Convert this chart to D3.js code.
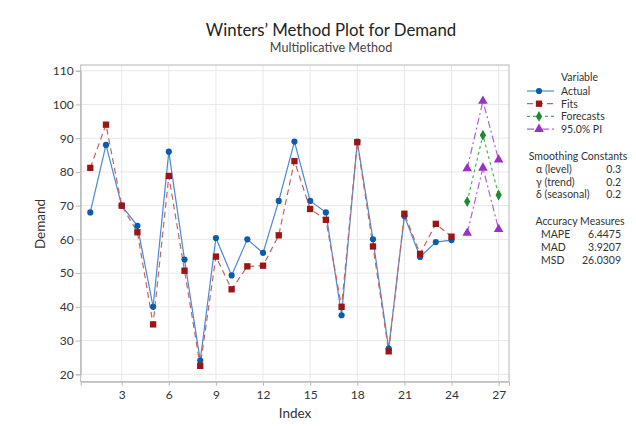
<!DOCTYPE html>
<html><head><meta charset="utf-8">
<script src="https://cdn.jsdelivr.net/npm/d3@7"></script>
<style>
body{margin:0;background:#fff;}
text{font-family:Lato,"Open Sans",sans-serif;}
</style></head>
<body><svg id="c" width="636" height="427"></svg>
<script>
const actualIdx = d3.range(1, 25);
const actual = [68,88,70,64,40,86,54,24.1,60.4,49.3,60,56,71.4,89,71.4,68,37.5,89,60,27.6,66.9,54.8,59.2,59.8];
const fits =   [81.2,94,70,62.1,34.8,78.8,50.7,22.5,54.9,45.2,52,52.2,61.2,83.2,69,65.8,40,88.8,57.9,26.8,67.6,55.7,64.6,60.8];
const forecastIdx = [25,26,27];
const forecasts = [71.2,90.9,73.15];
const piUpper = [81,101,83.6];
const piLower = [61.9,81.2,63];
const xTicks = [3,6,9,12,15,18,21,24,27];
const yTicks = [20,30,40,50,60,70,80,90,100,110];
const smoothing = [["α (level)","0.3"],["γ (trend)","0.2"],["δ (seasonal)","0.2"]];
const accuracy = [["MAPE","6.4475"],["MAD","3.9207"],["MSD","26.0309"]];

const FONT = "Lato,'Open Sans',sans-serif";
const svg = d3.select("#c");
const L=80.7, R=509, T=65, B=381.7;
const x = d3.scaleLinear().domain([0.39,27.66]).range([L,R]);
const y = d3.scaleLinear().domain([20,110]).range([374.3,70.7]);

// grid
const g = svg.append("g");
g.selectAll(".gx").data(xTicks).join("line")
  .attr("x1",d=>x(d)).attr("x2",d=>x(d)).attr("y1",T).attr("y2",B)
  .attr("stroke","#e8e8e8").attr("stroke-width",1);
g.selectAll(".gy").data(yTicks).join("line")
  .attr("y1",d=>y(d)).attr("y2",d=>y(d)).attr("x1",L).attr("x2",R)
  .attr("stroke","#e8e8e8").attr("stroke-width",1);
svg.append("rect").attr("x",L).attr("y",T).attr("width",R-L).attr("height",B-T)
  .attr("fill","none").attr("stroke","#b8b8b8").attr("stroke-width",1);

// axes
const xAxis = d3.axisBottom(x).tickValues(xTicks).tickSize(4).tickPadding(5);
const yAxis = d3.axisLeft(y).tickValues(yTicks).tickSize(5).tickPadding(2);
const ax = svg.append("g").attr("transform",`translate(0,${B})`).call(xAxis);
const ay = svg.append("g").attr("transform",`translate(${L},0)`).call(yAxis);
[ax,ay].forEach(a=>{
  a.select(".domain").attr("stroke","#b8b8b8");
  a.selectAll(".tick line").attr("stroke","#b8b8b8");
  a.selectAll(".tick text").attr("fill","#333").attr("font-size",12)
   .attr("font-family",FONT);
});

// titles
svg.append("text").attr("x",331).attr("y",36).attr("text-anchor","middle")
  .attr("font-size",16.8).attr("fill","#222").text("Winters’ Method Plot for Demand");
svg.append("text").attr("x",331).attr("y",51.5).attr("text-anchor","middle")
  .attr("font-size",12.6).attr("fill","#444").text("Multiplicative Method");
svg.append("text").attr("x",295).attr("y",418).attr("text-anchor","middle")
  .attr("font-size",13.5).attr("fill","#333").text("Index");
svg.append("text").attr("transform","translate(45,224) rotate(-90)").attr("text-anchor","middle")
  .attr("font-size",13.5).attr("fill","#333").text("Demand");

const line = d3.line().x(d=>x(d[0])).y(d=>y(d[1]));
const actualPts = actualIdx.map((i,k)=>[i,actual[k]]);
const fitPts = actualIdx.map((i,k)=>[i,fits[k]]);
const fcPts = forecastIdx.map((i,k)=>[i,forecasts[k]]);
const upPts = forecastIdx.map((i,k)=>[i,piUpper[k]]);
const loPts = forecastIdx.map((i,k)=>[i,piLower[k]]);

const cAct="#0b5cad", cActL="#4a8ad4", cFit="#9c1414", cFitL="#c46464", cFc="#1c8c2c", cFcL="#4caf5a", cPI="#9b2fc8", cPIL="#b060d8";

svg.append("path").attr("d",line(actualPts)).attr("fill","none").attr("stroke",cActL).attr("stroke-width",1.2);
svg.append("path").attr("d",line(fitPts)).attr("fill","none").attr("stroke",cFitL).attr("stroke-width",1.2).attr("stroke-dasharray","6,4");
svg.append("path").attr("d",line(fcPts)).attr("fill","none").attr("stroke",cFcL).attr("stroke-width",1.2).attr("stroke-dasharray","3,3");
[upPts,loPts].forEach(p=>svg.append("path").attr("d",line(p)).attr("fill","none").attr("stroke",cPIL).attr("stroke-width",1.2).attr("stroke-dasharray","7,3,2,3"));

const sym = (type,size)=>d3.symbol().type(type).size(size)();
function markers(pts,type,size,color){
  svg.append("g").selectAll("path").data(pts).join("path")
    .attr("d",sym(type,size)).attr("fill",color)
    .attr("transform",d=>`translate(${x(d[0])},${y(d[1])})`);
}
markers(actualPts,d3.symbolCircle,30,cAct);
markers(fitPts,d3.symbolSquare,40,cFit);
markers(fcPts,d3.symbolDiamond,34,cFc);
markers(upPts,d3.symbolTriangle,40,cPI);
markers(loPts,d3.symbolTriangle,40,cPI);

// legend
const lg = svg.append("g");
const fs=10.5;
lg.append("text").attr("x",561).attr("y",81).attr("font-size",fs).attr("fill","#333").text("Variable");
const items=[["Actual",cActL,null,cAct,d3.symbolCircle,30],["Fits",cFitL,"6,4",cFit,d3.symbolSquare,40],
  ["Forecasts",cFcL,"3,3",cFc,d3.symbolDiamond,34],["95.0% PI",cPIL,"7,3,2,3",cPI,d3.symbolTriangle,40]];
items.forEach((it,k)=>{
  const yy=91+k*12.7;
  lg.append("line").attr("x1",527).attr("x2",554).attr("y1",yy).attr("y2",yy)
    .attr("stroke",it[1]).attr("stroke-width",1.2).attr("stroke-dasharray",it[2]);
  lg.append("path").attr("d",sym(it[4],it[5])).attr("fill",it[3]).attr("transform",`translate(539,${yy})`);
  lg.append("text").attr("x",561).attr("y",yy+4).attr("font-size",fs).attr("fill","#333").text(it[0]);
});
lg.append("text").attr("x",578).attr("y",160).attr("text-anchor","middle").attr("font-size",fs).attr("fill","#333").text("Smoothing Constants");
smoothing.forEach((r,k)=>{
  const yy=173+k*12.7;
  lg.append("text").attr("x",536).attr("y",yy).attr("font-size",fs).attr("fill","#333").text(r[0]);
  lg.append("text").attr("x",621).attr("y",yy).attr("text-anchor","end").attr("font-size",fs).attr("fill","#333").text(r[1]);
});
lg.append("text").attr("x",580).attr("y",225).attr("text-anchor","middle").attr("font-size",fs).attr("fill","#333").text("Accuracy Measures");
accuracy.forEach((r,k)=>{
  const yy=237.5+k*13.1;
  lg.append("text").attr("x",541).attr("y",yy).attr("font-size",fs).attr("fill","#333").text(r[0]);
  lg.append("text").attr("x",621).attr("y",yy).attr("text-anchor","end").attr("font-size",fs).attr("fill","#333").text(r[1]);
});
</script></body></html>
